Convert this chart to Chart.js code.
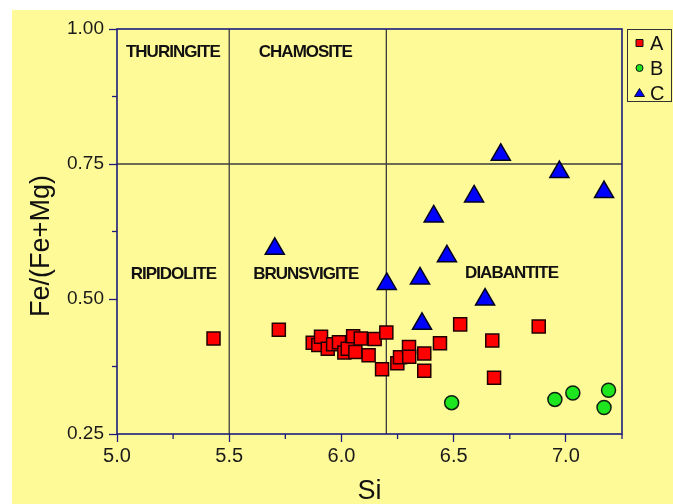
<!DOCTYPE html>
<html>
<head>
<meta charset="utf-8">
<title>Fe/(Fe+Mg) vs Si</title>
<script src="https://cdn.jsdelivr.net/npm/chart.js"></script>
<style>
  html, body { margin: 0; padding: 0; background: #fff; }
  #wrap { width: 673px; height: 504px; }
</style>
</head>
<body>
<div id="wrap"><canvas id="chart" width="673" height="504"></canvas></div>
<script>
// 1) values
const siA = [5.430, 5.721, 5.872, 5.897, 5.909, 5.939, 5.963, 5.989, 6.013, 6.028,
             6.052, 6.062, 6.086, 6.121, 6.148, 6.181, 6.200, 6.249, 6.261, 6.301,
             6.302, 6.369, 6.369, 6.439, 6.529, 6.672, 6.680, 6.879];
const feA = [0.427, 0.443, 0.419, 0.415, 0.430, 0.408, 0.416, 0.420, 0.401, 0.408,
             0.431, 0.402, 0.427, 0.396, 0.426, 0.370, 0.438, 0.381, 0.392, 0.411,
             0.393, 0.399, 0.367, 0.418, 0.453, 0.423, 0.354, 0.449];

const siB = [6.491, 6.951, 7.031, 7.190, 7.170];
const feB = [0.308, 0.314, 0.326, 0.331, 0.299];

const siC = [5.703, 6.710, 6.971, 7.170, 6.591, 6.411, 6.470, 6.350, 6.202, 6.640, 6.359];
const feC = [0.593, 0.767, 0.735, 0.698, 0.690, 0.653, 0.579, 0.538, 0.528, 0.499, 0.454];

const seriesNames = ['A', 'B', 'C'];

// 2) classification fields
const boundarySi = [5.5, 6.2];
const boundaryFe = [0.75];
const regionNames = ['THURINGITE', 'CHAMOSITE', 'RIPIDOLITE', 'BRUNSVIGITE', 'DIABANTITE'];
const regionSi    = [5.249, 5.839, 5.251, 5.841, 6.758];
const regionFe    = [0.957, 0.956, 0.546, 0.546, 0.548];

const xTicksMajor = 0.5, yTicksMajor = 0.25;

// 3) colours
const NAVY = '#1c1c7c';
const colors = { A: '#ff0000', B: '#1ee61e', C: '#0000ff' };

function isMajor(v, step) {
  const r = v / step;
  return Math.abs(r - Math.round(r)) < 1e-6;
}
function pts(xs, ys) { return xs.map((x, i) => ({ x: x, y: ys[i] })); }

// 4) drawing helpers for the extras
const fieldsPlugin = {
  id: 'fields',
  beforeDraw(chart) {
    const c = chart.ctx;
    c.save();
    c.fillStyle = '#ffffff';
    c.fillRect(0, 0, chart.width, chart.height);
    c.fillStyle = '#fffa98';
    c.fillRect(12, 10, chart.width - 12, chart.height - 10);
    c.restore();
  },
  beforeDatasetsDraw(chart) {
    const c = chart.ctx, a = chart.chartArea;
    const xs = chart.scales.x, ys = chart.scales.y;
    c.save();
    c.strokeStyle = '#3c3c3c';
    c.lineWidth = 1.3;
    boundarySi.forEach(v => {
      const px = xs.getPixelForValue(v);
      c.beginPath(); c.moveTo(px, a.top); c.lineTo(px, a.bottom); c.stroke();
    });
    boundaryFe.forEach(v => {
      const py = ys.getPixelForValue(v);
      c.beginPath(); c.moveTo(a.left, py); c.lineTo(a.right, py); c.stroke();
    });
    c.fillStyle = '#111';
    c.font = 'bold 17px "Liberation Sans", Arial, sans-serif';
    c.letterSpacing = '-1px';
    c.textAlign = 'center';
    c.textBaseline = 'middle';
    regionNames.forEach((n, i) => {
      c.fillText(n, xs.getPixelForValue(regionSi[i]), ys.getPixelForValue(regionFe[i]));
    });
    c.restore();
  },
  afterDatasetsDraw(chart) {
    const c = chart.ctx, a = chart.chartArea;
    const xs = chart.scales.x, ys = chart.scales.y;
    c.save();
    c.strokeStyle = NAVY;
    c.lineWidth = 1.6;
    c.strokeRect(a.left, a.top, a.right - a.left, a.bottom - a.top);
    // minor ticks
    c.lineWidth = 1.3;
    xs.ticks.forEach(t => {
      if (isMajor(t.value, xTicksMajor)) return;
      const px = xs.getPixelForValue(t.value);
      c.beginPath(); c.moveTo(px, a.bottom); c.lineTo(px, a.bottom + 5); c.stroke();
    });
    ys.ticks.forEach(t => {
      if (isMajor(t.value, yTicksMajor)) return;
      const py = ys.getPixelForValue(t.value);
      c.beginPath(); c.moveTo(a.left, py); c.lineTo(a.left - 5, py); c.stroke();
    });
    c.restore();
  },
  afterDraw(chart) {
    const c = chart.ctx;
    c.save();
    // y title
    c.fillStyle = '#111';
    c.font = '27px "Liberation Sans", Arial, sans-serif';
    c.textAlign = 'center';
    c.textBaseline = 'middle';
    c.translate(42, 246);
    c.rotate(-Math.PI / 2);
    c.fillText('Fe/(Fe+Mg)', 0, 0);
    c.restore();

    // legend box
    c.save();
    c.fillStyle = '#fffa98';
    c.fillRect(627, 29, 45, 73);
    c.strokeStyle = '#333';
    c.lineWidth = 1;
    c.strokeRect(627.5, 29.5, 44, 72);
    c.font = '20px "Liberation Sans", Arial, sans-serif';
    c.textAlign = 'left';
    c.textBaseline = 'middle';
    seriesNames.forEach((name, i) => {
      const y = 43 + i * 25, x = 639.5;
      c.fillStyle = colors[name];
      c.strokeStyle = '#111';
      c.lineWidth = 1;
      c.beginPath();
      if (i === 0) c.rect(x - 3.5, y - 3.5, 7, 7);
      else if (i === 1) c.arc(x, y, 3.5, 0, Math.PI * 2);
      else { c.moveTo(x, y - 4.5); c.lineTo(x + 5, y + 3.5); c.lineTo(x - 5, y + 3.5); c.closePath(); }
      c.fill(); c.stroke();
      c.fillStyle = '#111';
      c.fillText(name, 650, y + 1);
    });
    c.restore();
  }
};

// 5) chart
const ctx = document.getElementById('chart').getContext('2d');
new Chart(ctx, {
  type: 'scatter',
  data: {
    datasets: [
      { label: 'A', data: pts(siA, feA), pointStyle: 'rect', pointRadius: 9.2,
        backgroundColor: colors.A, borderColor: '#200000', borderWidth: 1.5 },
      { label: 'B', data: pts(siB, feB), pointStyle: 'circle', pointRadius: 7,
        backgroundColor: colors.B, borderColor: '#102010', borderWidth: 1.5 },
      { label: 'C', data: pts(siC, feC), pointStyle: 'triangle', pointRadius: 11,
        backgroundColor: colors.C, borderColor: '#000020', borderWidth: 1.5 }
    ]
  },
  options: {
    responsive: false,
    animation: false,
    devicePixelRatio: 1,
    layout: { padding: { left: 0, top: 29, right: 51, bottom: 0 } },
    plugins: { legend: { display: false }, tooltip: { enabled: false } },
    scales: {
      x: {
        type: 'linear', min: 5.0, max: 7.25,
        afterFit: s => { s.height = 70; },
        border: { display: false },
        grid: {
          drawOnChartArea: false, drawTicks: true, tickLength: 8, tickWidth: 1.3,
          tickColor: c => isMajor(c.tick.value, xTicksMajor) ? NAVY : 'rgba(0,0,0,0)'
        },
        ticks: {
          stepSize: 0.25, autoSkip: false, maxRotation: 0, padding: 2,
          color: '#1a1a1a', font: { family: '"Liberation Sans", Arial, sans-serif', size: 20 },
          callback: v => isMajor(v, xTicksMajor) ? v.toFixed(1) : ''
        },
        title: {
          display: true, text: 'Si', color: '#111', padding: 0,
          font: { family: '"Liberation Sans", Arial, sans-serif', size: 27, lineHeight: 0.9 }
        }
      },
      y: {
        type: 'linear', min: 0.25, max: 1.0,
        afterFit: s => { s.width = 117; },
        border: { display: false },
        grid: {
          drawOnChartArea: false, drawTicks: true, tickLength: 8, tickWidth: 1.3,
          tickColor: c => isMajor(c.tick.value, yTicksMajor) ? NAVY : 'rgba(0,0,0,0)'
        },
        ticks: {
          stepSize: 0.125, autoSkip: false, padding: 5,
          color: '#1a1a1a', font: { family: '"Liberation Sans", Arial, sans-serif', size: 19 },
          callback: v => isMajor(v, yTicksMajor) ? v.toFixed(2) : ''
        }
      }
    }
  },
  plugins: [fieldsPlugin]
});
</script>
</body>
</html>
